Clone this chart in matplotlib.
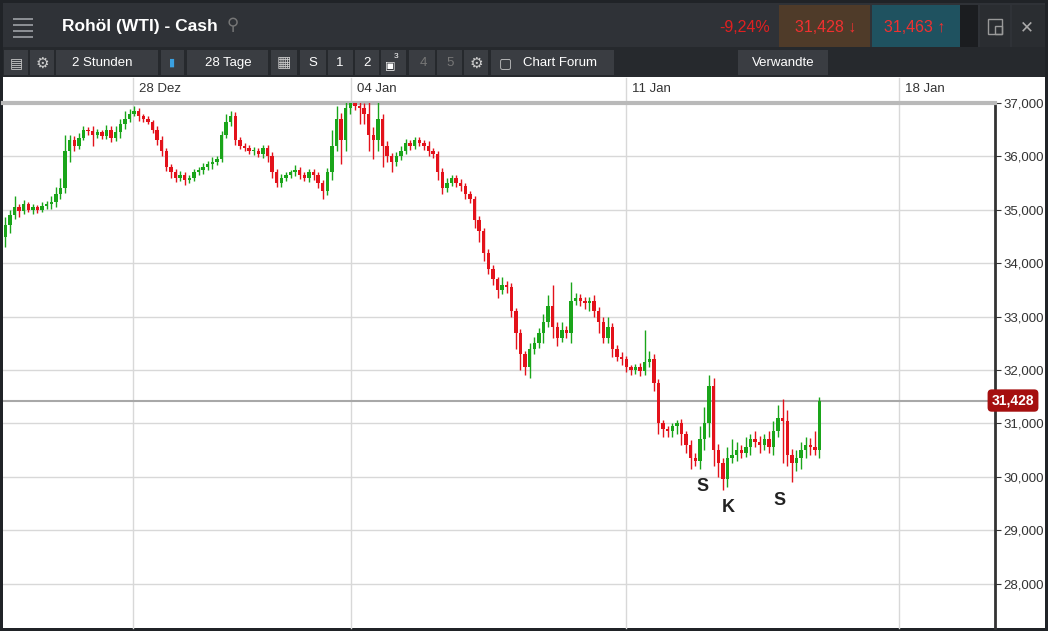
import matplotlib
matplotlib.use("Agg")
import matplotlib.pyplot as plt
from matplotlib.patches import Rectangle
from matplotlib.ticker import FuncFormatter

# ---- data (2-hour candles) ----
closes = [34720, 34900, 35050, 34980, 35100, 35000, 35050, 35000, 35080, 35100,
          35150, 35300, 35400, 36100, 36300, 36200, 36350, 36500, 36480, 36400,
          36450, 36380, 36500, 36350, 36450, 36600, 36700, 36800, 36850, 36750,
          36700, 36650, 36500, 36300, 36100, 35800, 35700, 35600, 35650, 35550,
          35600, 35700, 35750, 35800, 35850, 35900, 35950, 36400, 36650, 36750,
          36300, 36200, 36150, 36100, 36100, 36050, 36150, 36000, 35700, 35500,
          35600, 35650, 35700, 35750, 35650, 35600, 35700, 35650, 35500, 35350,
          35700, 36200, 36700, 36300, 36900, 37000, 36950, 36900, 36800, 36400,
          36300, 36700, 36200, 36000, 35900, 36000, 36100, 36250, 36200, 36300,
          36250, 36200, 36100, 36050, 35700, 35400, 35500, 35600, 35500, 35450,
          35300, 35200, 34800, 34600, 34200, 33900, 33700, 33500, 33600, 33550,
          33100, 32700, 32300, 32050, 32400, 32500, 32700, 32900, 33200, 32800,
          32600, 32750, 32700, 33300, 33350, 33300, 33250, 33300, 33100, 32900,
          32600, 32800, 32400, 32250, 32200, 32050, 32000, 32050, 31980, 32150,
          32200, 31750, 31000, 30900, 30850, 30950, 31000, 30800, 30600, 30350,
          30300, 30700, 31000, 31700, 30500, 30250, 29950, 30350, 30400, 30500,
          30450, 30550, 30700, 30650, 30600, 30700, 30550, 30850, 31100, 31050,
          30400, 30250, 30350, 30500, 30600, 30550, 30500, 31428]
first_open = 34500
wick_up = [150, 100, 200, 60, 80, 50, 60, 40, 70, 60,
           100, 120, 200, 300, 100, 80, 90, 60, 50, 80,
           60, 50, 90, 60, 120, 100, 150, 80, 90, 60,
           50, 60, 40, 60, 80, 60, 50, 60, 70, 60,
           50, 60, 50, 70, 60, 80, 60, 80, 150, 100,
           80, 60, 50, 60, 70, 50, 60, 60, 80, 60,
           70, 60, 50, 80, 60, 50, 60, 70, 60, 60,
           80, 300, 250, 120, 350, 400, 200, 150, 100, 300,
           150, 550, 100, 80, 60, 80, 100, 80, 60, 70,
           60, 50, 80, 60, 60, 80, 100, 60, 60, 70,
           60, 50, 60, 80, 60, 70, 60, 50, 150, 60,
           80, 60, 70, 60, 100, 120, 80, 150, 200, 400,
           100, 150, 80, 350, 100, 80, 60, 70, 100, 80,
           100, 200, 80, 60, 80, 60, 50, 60, 80, 600,
           150, 100, 80, 60, 60, 50, 60, 80, 60, 80,
           100, 250, 300, 200, 150, 120, 100, 200, 300, 150,
           100, 200, 100, 150, 120, 100, 150, 200, 250, 350,
           200, 120, 150, 150, 150, 120, 300, 60]
wick_dn = [200, 150, 80, 120, 60, 50, 80, 60, 50, 60,
           80, 100, 100, 80, 200, 100, 60, 50, 80, 200,
           60, 50, 60, 80, 60, 100, 80, 60, 50, 80,
           60, 50, 60, 80, 100, 80, 100, 80, 60, 80,
           50, 60, 50, 80, 60, 80, 60, 50, 60, 80,
           80, 60, 50, 60, 80, 60, 80, 100, 100, 80,
           80, 60, 50, 60, 80, 60, 80, 100, 100, 150,
           80, 150, 100, 450, 200, 100, 80, 300, 200, 300,
           350, 200, 400, 100, 200, 80, 60, 60, 80, 70,
           60, 80, 100, 80, 150, 100, 60, 60, 80, 100,
           100, 80, 150, 200, 150, 100, 100, 150, 80, 100,
           100, 300, 300, 150, 200, 100, 80, 200, 100, 200,
           150, 80, 100, 200, 80, 100, 100, 150, 100, 200,
           100, 100, 150, 80, 100, 80, 100, 80, 100, 80,
           100, 150, 200, 150, 100, 100, 150, 200, 150, 200,
           100, 150, 200, 250, 300, 250, 200, 150, 100, 100,
           100, 80, 150, 100, 150, 100, 100, 150, 100, 800,
           200, 350, 150, 200, 150, 150, 100, 150]
date_labels = ["28 Dez", "04 Jan", "11 Jan", "18 Jan"]
date_idx = [27.8, 75.2, 135, 194.3]
price_ticks = [28000, 29000, 30000, 31000, 32000, 33000, 34000, 35000, 36000, 37000]
last_price = 31428
annot = [("S", 151.5, 29820), ("K", 157.2, 29420), ("S", 168.3, 29550)]

plt.rcParams["font.family"] = ["Liberation Sans", "DejaVu Sans"]

W, H = 1048, 631
fig = plt.figure(figsize=(W / 100, H / 100), dpi=100)
fig.patch.set_facecolor("#202327")

def fx(x): return x / W
def fy(y): return 1 - y / H

def rect(x0, y0, x1, y1, color, z=0, ec="none", lw=0):
    fig.add_artist(Rectangle((fx(x0), fy(y1)), fx(x1) - fx(x0), fy(y0) - fy(y1),
                             transform=fig.transFigure, facecolor=color,
                             edgecolor=ec, linewidth=lw, zorder=z))

def txt(x, y, s, **kw):
    kw.setdefault("ha", "center"); kw.setdefault("va", "center")
    kw.setdefault("color", "white"); kw.setdefault("fontsize", 9.5)
    fig.text(fx(x), fy(y), s, **kw)

SYM = ["DejaVu Sans"]
# header
rect(3, 3, 1045, 47, "#2f3237")
rect(3, 47, 1045, 77, "#26292d")
rect(779, 5, 870, 47, "#4f3b29")
rect(872, 5, 960, 47, "#1f5260")
rect(960, 5, 978, 47, "#1b1d20")
rect(980, 5, 1010, 47, "#2a2d31")
rect(1012, 5, 1045, 47, "#2a2d31")
for i in range(4):
    rect(13, 19 + i * 6 - 1, 33, 19 + i * 6 + 1, "#8b8e93")
txt(62, 27, "Rohöl (WTI) - Cash", ha="left", fontsize=12.5, fontweight="bold")
txt(233, 25, "⚲", color="#777", fontsize=12, family=SYM)
txt(745, 27, "-9,24%", color="#e02020", fontsize=11.5)
txt(826, 27, "31,428 ↓", color="#f03030", fontsize=11.5)
txt(915, 27, "31,463 ↑", color="#f03030", fontsize=11.5)
txt(1027, 27, "✕", color="#aaa", fontsize=12, family=SYM)
rect(988, 19, 1002, 34, "none", z=2, ec="#999", lw=1)
rect(995, 26, 1002, 34, "none", z=2, ec="#999", lw=1)
# toolbar
for (x0, x1) in [(4, 28), (30, 54), (56, 158), (161, 184), (187, 268), (271, 297),
                 (300, 326), (328, 353), (355, 379), (381, 406), (409, 435),
                 (437, 462), (464, 488), (491, 614), (738, 828)]:
    rect(x0, 50, x1, 75, "#3a3d42")
txt(16, 63, "▤", color="#ccc", fontsize=10, family=SYM)
txt(42, 63, "⚙", color="#ccc", fontsize=11, family=SYM)
txt(102, 63, "2 Stunden")
txt(172, 63, "▮", color="#3aa0e0", fontsize=8, family=SYM)
txt(228, 63, "28 Tage")
txt(284, 63, "▦", color="#ccc", fontsize=11, family=SYM)
txt(313, 63, "S"); txt(340, 63, "1"); txt(367, 63, "2")
txt(390, 66, "▣", fontsize=8, family=SYM); txt(396, 57, "3", fontsize=6)
txt(423, 63, "4", color="#777"); txt(450, 63, "5", color="#777")
txt(476, 63, "⚙", color="#ccc", fontsize=11, family=SYM)
txt(505, 63, "▢", color="#ccc", fontsize=10, family=SYM)
txt(560, 63, "Chart Forum")
txt(783, 63, "Verwandte")

# white region
rect(3, 77, 1045, 628, "white", z=-1)

# main axes
ax = fig.add_axes([fx(3), fy(628), fx(995) - fx(3), fy(103) - fy(628)])
ax.set_facecolor("white")
n = len(closes)
opens = [first_open] + closes[:-1]
step = 4.6
ax.set_xlim(-0.5, 992 / step - 0.5)
p_top = 37000
p_bot = 37000 - (628 - 103) / 53.4 * 1000
ax.set_ylim(p_bot, p_top)
for i in range(n):
    o, c = opens[i], closes[i]
    col = "#1aa51a" if c >= o else "#e3121b"
    hi = max(o, c) + wick_up[i]
    lo = min(o, c) - wick_dn[i]
    ax.vlines(i, lo, hi, color=col, linewidth=1, zorder=3)
    ax.bar(i, max(abs(c - o), 15), bottom=min(o, c), width=0.7, color=col, zorder=4)
for p in price_ticks:
    ax.axhline(p, color="#d8d8d8", linewidth=1, zorder=1)
for xi in date_idx:
    ax.axvline(xi, ymin=0, ymax=1 + 25 / 525, color="#d8d8d8", linewidth=1,
               zorder=1, clip_on=False)
ax.axhline(last_price, color="#a8a8a8", linewidth=1.5, zorder=2)
for lab, xi in zip(date_labels, date_idx):
    ax.text(xi + 1.3, 1 + 14 / 525, lab, transform=ax.get_xaxis_transform(),
            ha="left", va="center", fontsize=9.5, color="#333")
for s, xi, yv in annot:
    ax.text(xi, yv, s, ha="center", va="center", fontsize=13,
            fontweight="bold", color="#222", zorder=6)
ax.set_xticks([])
ax.yaxis.tick_right()
ax.set_yticks(price_ticks)
ax.yaxis.set_major_formatter(FuncFormatter(lambda v, _: f"{int(v):,}"))
ax.tick_params(axis="y", length=4, pad=2, labelsize=9.5, colors="#333",
               direction="out")
for k, sp in ax.spines.items():
    sp.set_visible(k in ("top", "right"))
ax.spines["top"].set_color("#b9b9b9"); ax.spines["top"].set_linewidth(3)
ax.spines["right"].set_color("#333333"); ax.spines["right"].set_linewidth(2)
ax.text(1.0 + 18 / 992, last_price, f"{last_price:,}", transform=ax.get_yaxis_transform(),
        ha="center", va="center", fontsize=10, fontweight="bold", color="white",
        zorder=10, clip_on=False,
        bbox=dict(boxstyle="round,pad=0.3,rounding_size=0.3", fc="#a50f0f", ec="none"))

fig.savefig("out.png", dpi=100, facecolor=fig.get_facecolor())
